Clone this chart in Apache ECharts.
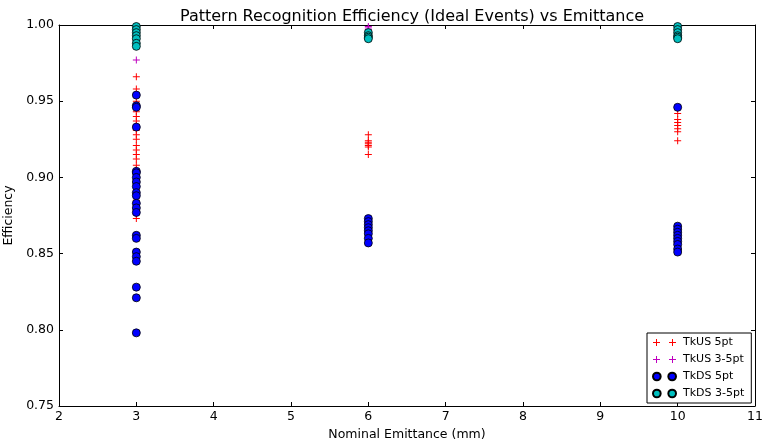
<!DOCTYPE html>
<html>
<head>
<meta charset="utf-8">
<script src="https://cdn.jsdelivr.net/npm/echarts@6/dist/echarts.min.js"></script>
<style>html,body{margin:0;padding:0;background:#fff}#c{width:763px;height:441px}</style>
</head>
<body>
<div id="c"></div>
<script>
// Emittance values (mm)
var emittances = [3, 6, 10];
// Efficiency values per series per emittance
var tkus5At3 = [0.966, 0.958, 0.950, 0.946, 0.943, 0.940, 0.937, 0.934, 0.931, 0.928, 0.925, 0.921, 0.918, 0.915, 0.912, 0.908, 0.905, 0.902, 0.899, 0.895, 0.890, 0.885, 0.880, 0.876, 0.873];
var tkus5At6 = [0.928, 0.924, 0.923, 0.922, 0.921, 0.920, 0.915];
var tkus5At10 = [0.942, 0.938, 0.936, 0.934, 0.932, 0.930, 0.924];
var tkus35At3 = [0.999, 0.977];
var tkus35At6 = [0.999, 0.998, 0.997, 0.996];
var tkus35At10 = [0.999, 0.998];
var tkds5At3 = [0.954, 0.947, 0.946, 0.933, 0.904, 0.903, 0.900, 0.897, 0.894, 0.890, 0.888, 0.883, 0.880, 0.877, 0.862, 0.860, 0.851, 0.848, 0.845, 0.828, 0.821, 0.798];
var tkds5At6 = [0.873, 0.871, 0.869, 0.867, 0.865, 0.863, 0.860, 0.857];
var tkds5At10 = [0.946, 0.868, 0.866, 0.864, 0.862, 0.860, 0.858, 0.856, 0.853, 0.851];
var tkds35At3 = [0.999, 0.997, 0.995, 0.993, 0.991, 0.988, 0.986];
var tkds35At6 = [0.995, 0.993, 0.992, 0.991];
var tkds35At10 = [0.999, 0.997, 0.995, 0.993, 0.992, 0.991];
var seriesNames = ['TkUS 5pt', 'TkUS 3-5pt', 'TkDS 5pt', 'TkDS 3-5pt'];
var xTicks = [2, 3, 4, 5, 6, 7, 8, 9, 10, 11];
var yTicks = [0.75, 0.80, 0.85, 0.90, 0.95, 1.00];

function pairs(lists) {
  var out = [];
  lists.forEach(function (vals, i) {
    vals.forEach(function (v) { out.push([emittances[i], v]); });
  });
  return out;
}

var plusPath = 'path://M3,0h1v3h3v1h-3v3h-1v-3h-3v-1h3z';
var plus2Path = 'path://M3,0h1v3h3v1h-3v3h-1v-3h-3v-1h3zM19,0h1v3h3v1h-3v3h-1v-3h-3v-1h3z';
var circ2Path = 'path://M0,4a4,4 0 1,0 8,0a4,4 0 1,0 -8,0zM16,4a4,4 0 1,0 8,0a4,4 0 1,0 -8,0z';

var font = 'DejaVu Sans';
var axisCommon = {
  type: 'value',
  axisLine: { show: true, lineStyle: { color: '#000', width: 1 } },
  axisTick: { show: true, inside: true, length: 4, lineStyle: { color: '#000' } },
  splitLine: { show: false }
};

var chart = echarts.init(document.getElementById('c'), null, { renderer: 'canvas' });
chart.setOption({
  animation: false,
  backgroundColor: '#fff',
  title: {
    text: 'Pattern Recognition Efficiency (Ideal Events) vs Emittance',
    left: 407, top: 4, textAlign: 'center',
    textStyle: { fontFamily: font, fontSize: 16, fontWeight: 'normal', color: '#000' }
  },
  grid: { left: 59, right: 8, top: 25, bottom: 35, containLabel: false, outerBoundsMode: 'none' },
  xAxis: [
    Object.assign({}, axisCommon, {
      min: xTicks[0], max: xTicks[xTicks.length - 1], interval: 1, position: 'bottom',
      name: 'Nominal Emittance (mm)', nameLocation: 'middle', nameGap: 21,
      nameTextStyle: { fontFamily: font, fontSize: 12.5, color: '#000' },
      axisLabel: { fontFamily: font, fontSize: 12.5, color: '#000', margin: 4 }
    }),
    Object.assign({}, axisCommon, {
      min: xTicks[0], max: xTicks[xTicks.length - 1], interval: 1, position: 'top',
      axisLabel: { show: false }
    })
  ],
  yAxis: [
    Object.assign({}, axisCommon, {
      min: yTicks[0], max: yTicks[yTicks.length - 1], interval: 0.05, position: 'left',
      name: 'Efficiency', nameLocation: 'middle', nameGap: 37,
      nameTextStyle: { fontFamily: font, fontSize: 12.5, color: '#000' },
      axisLabel: { fontFamily: font, fontSize: 12.5, color: '#000', margin: 5,
        formatter: function (v) { return v.toFixed(2); } }
    }),
    Object.assign({}, axisCommon, {
      min: yTicks[0], max: yTicks[yTicks.length - 1], interval: 0.05, position: 'right',
      axisLabel: { show: false }
    })
  ],
  legend: {
    orient: 'vertical', left: 647, top: 333,
    padding: [4, 7, 4, 5], itemGap: 6, itemWidth: 23, itemHeight: 8,
    borderColor: '#000', borderWidth: 1, backgroundColor: '#fff',
    textStyle: { fontFamily: font, fontSize: 11, color: '#000', padding: [0, 0, 0, 2] },
    data: [
      { name: seriesNames[0], icon: plus2Path },
      { name: seriesNames[1], icon: plus2Path },
      { name: seriesNames[2], icon: circ2Path },
      { name: seriesNames[3], icon: circ2Path }
    ]
  },
  series: [
    { name: seriesNames[0], type: 'scatter', symbol: plusPath, symbolSize: 7,
      itemStyle: { color: '#ff0000', opacity: 1 }, data: pairs([tkus5At3, tkus5At6, tkus5At10]) },
    { name: seriesNames[1], type: 'scatter', symbol: plusPath, symbolSize: 7,
      itemStyle: { color: '#bf00bf', opacity: 1 }, data: pairs([tkus35At3, tkus35At6, tkus35At10]) },
    { name: seriesNames[2], type: 'scatter', symbol: 'circle', symbolSize: 8,
      itemStyle: { color: '#0000ff', borderColor: '#000', borderWidth: 0.8, opacity: 1 }, data: pairs([tkds5At3, tkds5At6, tkds5At10]) },
    { name: seriesNames[3], type: 'scatter', symbol: 'circle', symbolSize: 8,
      itemStyle: { color: '#00bfbf', borderColor: '#000', borderWidth: 0.8, opacity: 1 }, data: pairs([tkds35At3, tkds35At6, tkds35At10]) }
  ]
});
</script>
</body>
</html>
